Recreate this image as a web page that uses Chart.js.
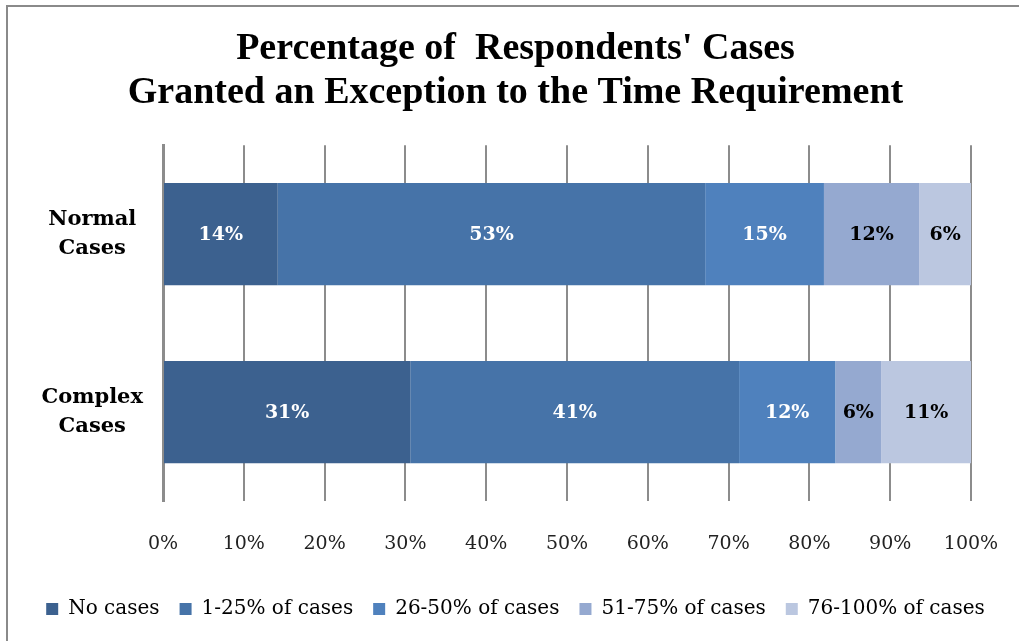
<!DOCTYPE html>
<html>
<head>
<meta charset="utf-8">
<script src="https://cdn.jsdelivr.net/npm/chart.js@4/dist/chart.umd.min.js"></script>
<style>
  html, body { margin: 0; padding: 0; background: #fff; }
  #wrap { position: relative; width: 1019px; height: 641px; overflow: hidden; }
  #frame { position: absolute; left: 6px; top: 5px; width: 1100px; height: 700px;
           border-top: 2px solid #8a8a8a; border-left: 2px solid #8a8a8a; pointer-events: none; }
  canvas { position: absolute; left: 0; top: 0; }
</style>
</head>
<body>
<div id="wrap">
  <canvas id="c" width="1019" height="641"></canvas>
  <div id="frame"></div>
</div>
<script>
const categories = [["Normal", "Cases"], ["Complex", "Cases"]];
const seriesNames = ["No cases", "1-25% of cases", "26-50% of cases", "51-75% of cases", "76-100% of cases"];
const noCases      = [14.2, 30.6];
const cases1to25   = [52.9, 40.7];
const cases26to50  = [14.7, 11.9];
const cases51to75  = [11.8, 5.7];
const cases76to100 = [6.4, 11.1];
const xTicks = [0, 10, 20, 30, 40, 50, 60, 70, 80, 90, 100];
const titleLines = ["Percentage of  Respondents' Cases", "Granted an Exception to the Time Requirement"];

const colors = ["#3c618f", "#4673a8", "#4f81bd", "#95a9d0", "#bbc7e0"];
const labelColors = ["#ffffff", "#ffffff", "#ffffff", "#000000", "#000000"];
const seriesValues = [noCases, cases1to25, cases26to50, cases51to75, cases76to100];
const SERIF = "'Liberation Serif', serif";
const WIDE = "'DejaVu Serif', serif";

const barLabels = {
  id: 'barLabels',
  afterDatasetsDraw(chart) {
    const ctx = chart.ctx;
    ctx.save();
    ctx.font = "bold 19px " + WIDE;
    ctx.textAlign = 'center';
    ctx.textBaseline = 'middle';
    chart.data.datasets.forEach((ds, i) => {
      const meta = chart.getDatasetMeta(i);
      meta.data.forEach((bar, j) => {
        const v = ds.data[j];
        const p = bar.getProps(['x', 'y', 'base'], true);
        ctx.fillStyle = labelColors[i];
        ctx.fillText(Math.round(v) + '%', (p.x + p.base) / 2, p.y + 1);
      });
    });
    ctx.restore();
  }
};

new Chart(document.getElementById('c'), {
  type: 'bar',
  data: {
    labels: categories,
    datasets: seriesValues.map((vals, i) => ({
      label: seriesNames[i],
      data: vals,
      backgroundColor: colors[i],
      borderWidth: 0,
      barPercentage: 0.575,
      categoryPercentage: 1.0
    }))
  },
  options: {
    indexAxis: 'y',
    responsive: false,
    animation: false,
    devicePixelRatio: 1,
    layout: { padding: { left: 12, right: 0, top: 8, bottom: 12 } },
    scales: {
      x: {
        stacked: true,
        min: 0, max: 100,
        afterBuildTicks(axis) { axis.ticks = xTicks.map(v => ({ value: v })); },
        afterFit(axis) { axis.height = 78; },
        grid: { color: '#8c8c8c', lineWidth: 2, drawTicks: true, tickLength: 24, tickColor: 'rgba(0,0,0,0)' },
        border: { display: false },
        ticks: {
          padding: 8,
          color: '#222',
          font: { family: WIDE, size: 19 },
          callback: v => v + '%'
        }
      },
      y: {
        stacked: true,
        grid: { display: false },
        border: { display: true, color: '#8c8c8c', width: 3 },
        afterFit(axis) { axis.width = 151; },
        ticks: {
          crossAlign: 'center',
          padding: 12,
          color: '#000',
          font: { family: WIDE, size: 21, weight: 'bold', lineHeight: 1.4 }
        }
      },
      yRight: {
        axis: 'y',
        type: 'category',
        position: 'right',
        grid: { display: false },
        border: { display: false },
        ticks: { display: false },
        afterFit(axis) { axis.width = 48; }
      }
    },
    plugins: {
      title: {
        display: true,
        text: titleLines,
        color: '#000',
        font: { family: SERIF, size: 38, weight: 'bold', lineHeight: 1.16 },
        padding: { top: 19, bottom: 30 }
      },
      legend: {
        position: 'bottom',
        labels: {
          boxWidth: 12,
          boxHeight: 12,
          padding: 20,
          color: '#000',
          font: { family: WIDE, size: 20 }
        }
      },
      tooltip: { enabled: false }
    }
  },
  plugins: [barLabels]
});
</script>
</body>
</html>
